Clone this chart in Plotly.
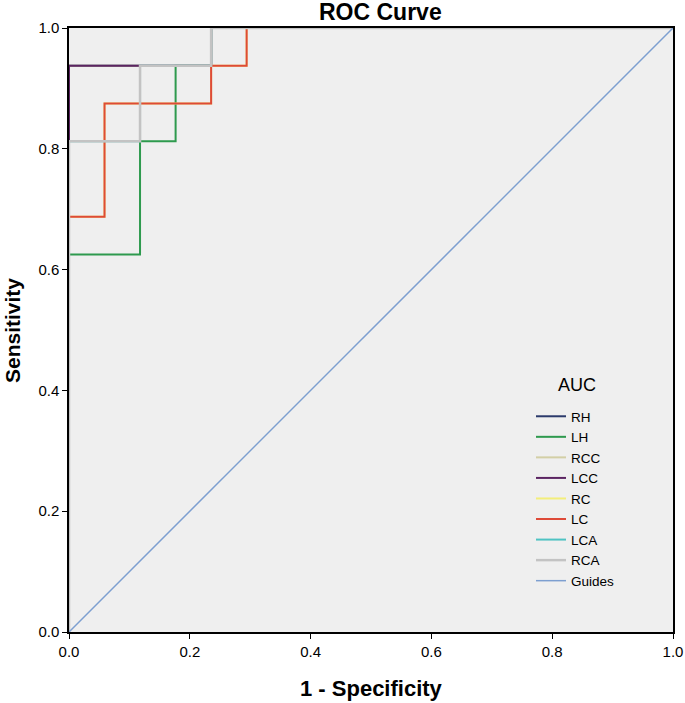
import plotly.graph_objects as go

# Data (1 - Specificity, Sensitivity) step vertices
series_names = ["RH", "LH", "RCC", "LCC", "RC", "LC", "LCA", "RCA"]
colors = ["#2b3a6b", "#2e9a4e", "#d3cfa6", "#5b2462", "#f3ee7a", "#de4a38", "#4fc3c3", "#c3c3c3"]

RH_x = [0.0, 0.0, 0.2353, 0.2353, 1.0]
RH_y = [0.0, 0.9375, 0.9375, 1.0, 1.0]
LH_x = [0.0, 0.0, 0.1176, 0.1176, 0.1765, 0.1765, 0.2353, 0.2353, 1.0]
LH_y = [0.0, 0.625, 0.625, 0.8125, 0.8125, 0.9375, 0.9375, 1.0, 1.0]
RCC_x = [0.0, 0.0, 0.2353, 0.2353, 1.0]
RCC_y = [0.0, 0.9375, 0.9375, 1.0, 1.0]
LCC_x = [0.0, 0.0, 0.2353, 0.2353, 1.0]
LCC_y = [0.0, 0.9375, 0.9375, 1.0, 1.0]
RC_x = [0.0, 0.0, 0.0588, 0.0588, 0.2353, 0.2353, 0.2941, 0.2941, 1.0]
RC_y = [0.0, 0.6875, 0.6875, 0.875, 0.875, 0.9375, 0.9375, 1.0, 1.0]
LC_x = [0.0, 0.0, 0.0588, 0.0588, 0.2353, 0.2353, 0.2941, 0.2941, 1.0]
LC_y = [0.0, 0.6875, 0.6875, 0.875, 0.875, 0.9375, 0.9375, 1.0, 1.0]
LCA_x = [0.0, 0.0, 0.1176, 0.1176, 0.2353, 0.2353, 1.0]
LCA_y = [0.0, 0.8125, 0.8125, 0.9375, 0.9375, 1.0, 1.0]
RCA_x = [0.0, 0.0, 0.1176, 0.1176, 0.2353, 0.2353, 1.0]
RCA_y = [0.0, 0.8125, 0.8125, 0.9375, 0.9375, 1.0, 1.0]
guide_x = [0.0, 1.0]
guide_y = [0.0, 1.0]

xs = [RH_x, LH_x, RCC_x, LCC_x, RC_x, LC_x, LCA_x, RCA_x]
ys = [RH_y, LH_y, RCC_y, LCC_y, RC_y, LC_y, LCA_y, RCA_y]
widths = [2, 2, 2, 2, 2, 2, 2, 2.5]

ticks = [0.0, 0.2, 0.4, 0.6, 0.8, 1.0]
tick_labels = ["0.0", "0.2", "0.4", "0.6", "0.8", "1.0"]

fig = go.Figure()
for name, c, x, y, w in zip(series_names, colors, xs, ys, widths):
    fig.add_trace(go.Scatter(x=x, y=y, mode="lines", name=name,
                             line=dict(color=c, width=w), cliponaxis=False))
fig.add_trace(go.Scatter(x=guide_x, y=guide_y, mode="lines", name="Guides",
                         line=dict(color="#7d9fd0", width=1.5)))

font = "Arial, Liberation Sans, sans-serif"
axis_common = dict(
    range=[0, 1], tickvals=ticks, ticktext=tick_labels,
    ticks="outside", ticklen=5, tickwidth=1, tickcolor="black",
    showline=True, linecolor="black", linewidth=1.5, mirror=True,
    showgrid=False, zeroline=False, automargin=False,
    tickfont=dict(family=font, size=15, color="black"),
)

W, H = 685, 703
L, T = 69, 28
RIGHT, BOTTOM = 673, 632
R, B = W - RIGHT, H - BOTTOM
PW, PH = RIGHT - L, BOTTOM - T


def px(xr):
    return (xr - L) / PW


def py(yr):
    return (BOTTOM - yr) / PH


fig.update_layout(
    width=W, height=H,
    margin=dict(l=L, r=R, t=T, b=B, autoexpand=False),
    paper_bgcolor="white", plot_bgcolor="#efefef",
    xaxis=axis_common,
    yaxis=axis_common,
    legend=dict(
        x=px(531), y=py(401), xanchor="left", yanchor="top",
        bgcolor="rgba(0,0,0,0)", font=dict(family=font, size=13.5, color="black"),
        tracegroupgap=0, itemwidth=30,
    ),
    showlegend=True,
)

fig.add_annotation(text="<b>ROC Curve</b>", xref="paper", yref="paper",
                   x=px(380), y=py(12), xanchor="center", yanchor="middle",
                   showarrow=False, font=dict(family=font, size=23, color="black"))
fig.add_annotation(text="<b>1 - Specificity</b>", xref="paper", yref="paper",
                   x=px(371), y=py(688), xanchor="center", yanchor="middle",
                   showarrow=False, font=dict(family=font, size=22, color="black"))
fig.add_annotation(text="<b>Sensitivity</b>", xref="paper", yref="paper",
                   x=px(12), y=py(331), xanchor="center", yanchor="middle",
                   textangle=-90, showarrow=False, font=dict(family=font, size=21, color="black"))
fig.add_annotation(text="AUC", xref="paper", yref="paper",
                   x=px(577), y=py(385), xanchor="center", yanchor="middle",
                   showarrow=False, font=dict(family=font, size=18, color="black"))

fig.write_html("out.html", config={"displayModeBar": False},
               post_script="document.body.style.margin='0px';")
